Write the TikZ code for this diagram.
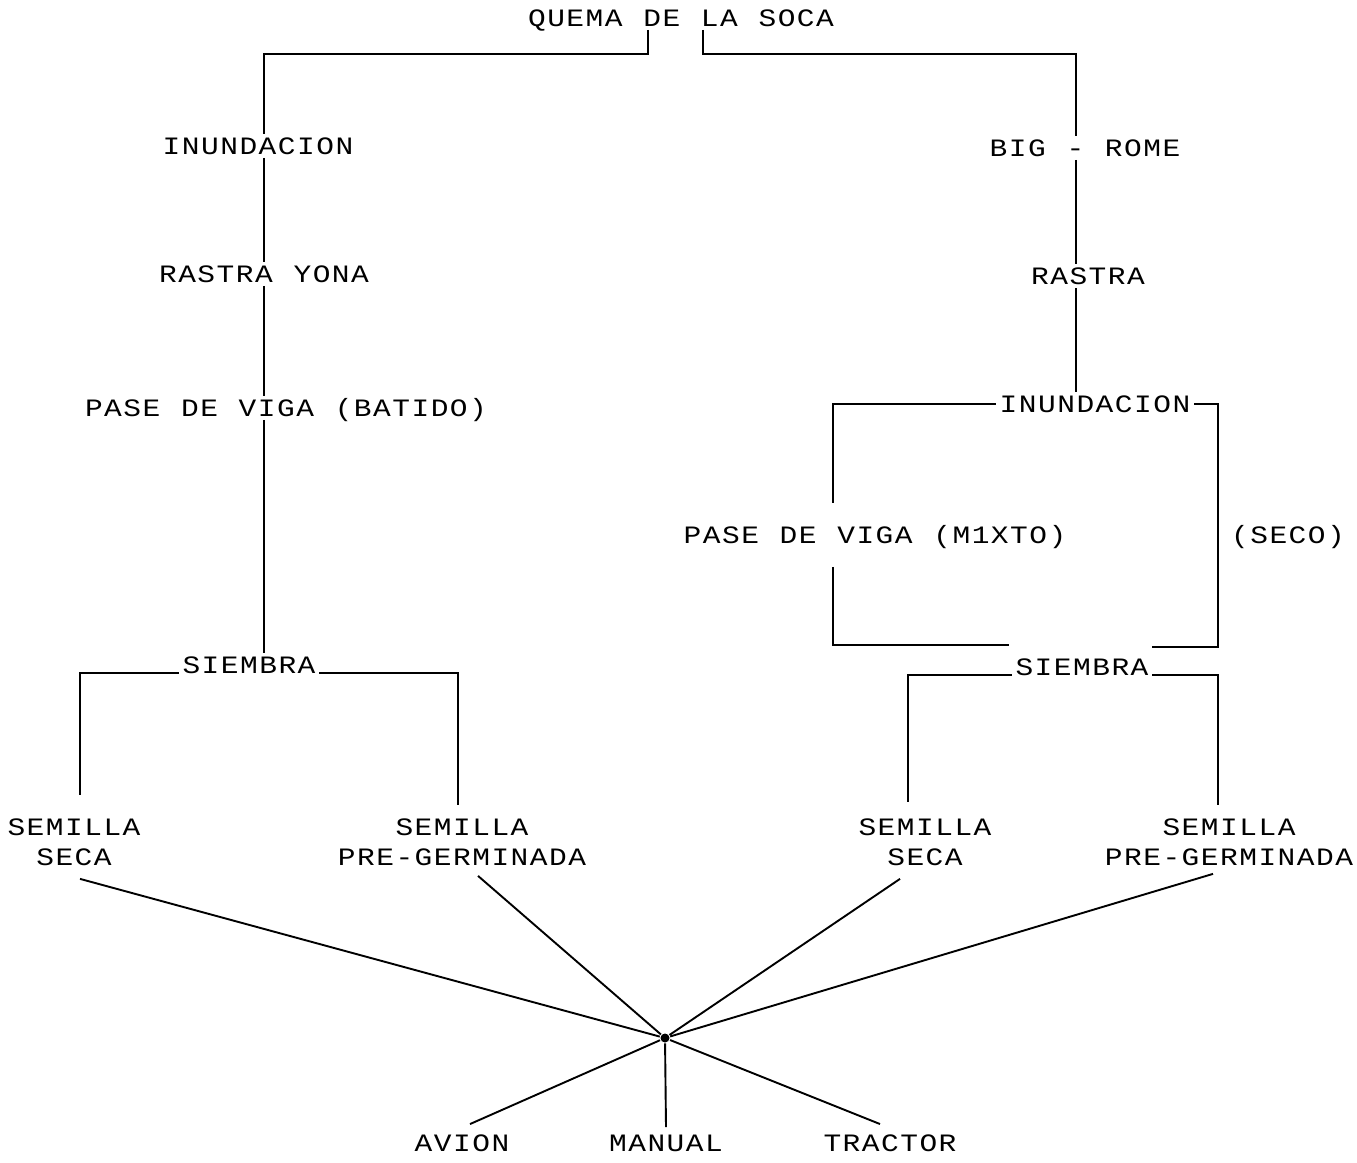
\documentclass[tikz,border=0pt]{standalone}
\usepackage{fontspec}
\newfontfamily\plotter[FakeStretch=1.18,LetterSpace=6,WordSpace=1.08]{Liberation Mono}
\usetikzlibrary{calc}

\begin{document}
\begin{tikzpicture}[x=1pt,y=-1pt,line width=1.9pt,
                    font=\plotter\fontsize{25}{30}\selectfont]
  \tikzstyle{txt}=[inner sep=3pt,text height=16pt,text depth=0pt]
  \tikzstyle{seed}=[inner sep=3pt,align=center,anchor=north]

  \useasboundingbox (0,0) rectangle (1357,1162);

  % columns of the tree
  \coordinate (colA) at (264,0);
  \coordinate (colB) at (1076,0);
  \coordinate (loopL) at (833,0);
  \coordinate (loopR) at (1218,0);
  \coordinate (brA) at (80,0);
  \coordinate (brB) at (458,0);
  \coordinate (brC) at (908,0);

  \node[txt] (quema) at (681,18) {QUEMA DE LA SOCA};

  % left branch
  \node[txt] (inundA) at (258,146) {INUNDACION};
  \node[txt] (rastraA) at (264,274) {RASTRA YONA};
  \node[txt] (vigaA) at (286,408) {PASE DE VIGA (BATIDO)};
  \node[txt] (siembraA) at (249,665) {SIEMBRA};
  \node[seed] (secaA) at (74,815) {SEMILLA\\SECA};
  \node[seed] (pregA) at (462,815) {SEMILLA\\PRE-GERMINADA};

  % right branch
  \node[txt] (bigrome) at (1085,148) {BIG - ROME};
  \node[txt] (rastraB) at (1088,276) {RASTRA};
  \node[txt] (inundB) at (1095,404) {INUNDACION};
  \node[txt] (vigaB) at (875,535) {PASE DE VIGA (M1XTO)};
  \node[txt] (seco) at (1288,535) {(SECO)};
  \node[txt] (siembraB) at (1082,667) {SIEMBRA};
  \node[seed] (secaB) at (925,815) {SEMILLA\\SECA};
  \node[seed] (pregB) at (1229,815) {SEMILLA\\PRE-GERMINADA};

  % sowing methods
  \node[circle,fill,inner sep=0pt,minimum size=9pt] (hub) at (665,1038) {};
  \node[txt] (avion) at (462,1143) {AVION};
  \node[txt] (manual) at (666,1143) {MANUAL};
  \node[txt] (tractor) at (890,1143) {TRACTOR};

  % top split
  \draw ([xshift=-33pt]quema.south) -- ++(0,24) -| (inundA.north -| colA);
  \draw ([xshift=22pt]quema.south) -- ++(0,24) -| (bigrome.north -| colB);

  % left column
  \draw (inundA.south -| colA) -- (rastraA.north -| colA);
  \draw (rastraA.south -| colA) -- (vigaA.north -| colA);
  \draw (vigaA.south -| colA) -- (siembraA.north -| colA);
  \draw (siembraA.base west) -| ($(secaA.north -| brA)+(0,-20)$);
  \draw (siembraA.base east) -| ($(pregA.north -| brB)+(0,-10)$);

  % right column
  \draw (bigrome.south -| colB) -- (rastraB.north -| colB);
  \draw (rastraB.south -| colB) -- (inundB.north -| colB);
  \draw (inundB.west) -| ($(vigaB.north -| loopL)+(0,-20)$);
  \draw ($(vigaB.south -| loopL)+(0,20)$) |- ($(siembraB.north west)+(-3,-10)$);
  \draw (inundB.east) -| ($(siembraB.north east -| loopR)+(0,-8)$)
        -- ($(siembraB.north east)+(0,-8)$);
  \draw (siembraB.base west) -| ($(secaB.north -| brC)+(0,-13)$);
  \draw (siembraB.base east) -| ($(pregB.north -| loopR)+(0,-10)$);

  % fan through the hub
  \path (hub) edge ($(secaA.south)+(6,9)$)
              edge ($(pregA.south)+(16,6)$)
              edge ($(secaB.south)+(-25,9)$)
              edge ($(pregB.south)+(-16,4)$)
              edge ($(avion.north)+(8,-7)$)
              edge ($(manual.north)+(0,-4)$)
              edge ($(tractor.north)+(-10,-7)$);
\end{tikzpicture}
\end{document}
